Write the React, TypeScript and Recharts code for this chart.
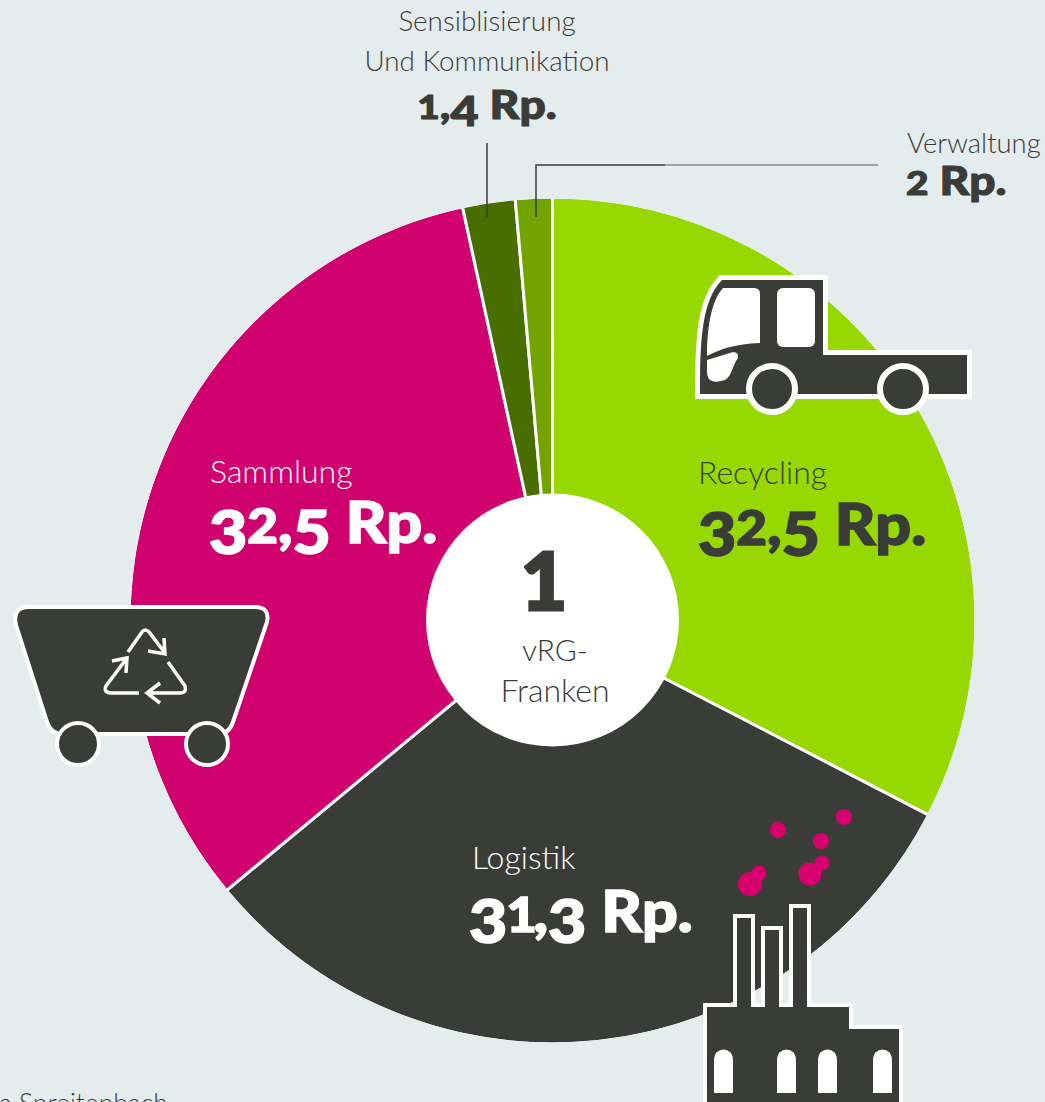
import { Cell, Pie, PieChart } from "recharts";

// slices follow the drawn wedge sizes: the dark green wedge is the wider one,
// even though the picture's leader gives it the 1,4 label
const categories = ["Recycling", "Logistik", "Sammlung", "Sensibilisierung", "Verwaltung"];
const sliceValues = [32.5, 31.3, 32.5, 2, 1.4];
const sliceColors = ["#96D800", "#3A3C38", "#D0006F", "#486E00", "#72A400"];
const amountLabels = ["32,5", "31,3", "32,5", "1,4", "2"];
const smokeDots = [
  [778, 830, 8],
  [844, 817, 8],
  [821, 841, 8],
  [822, 863, 7.5],
  [810, 874, 11.5],
  [759, 873, 7.5],
  [750, 884, 12],
];
const factoryWindows = [714, 777, 818, 873];

const data = categories.map((name, i) => ({ name, value: sliceValues[i] }));

const DARK = "#3A3C38";
const BG = "#E4ECEE";
const LIGHT = "Lato, sans-serif";

function Amount({ x, y, text, size, fill, anchor, sx = 1.1, tight = false }: any) {
  // fakes the old-style figures of the original: 3,4,5 hang below the baseline
  const k = size / 57;
  let shift = 0;
  const chars = (text + " Rp.").split("");
  const parts = chars.map((ch: string, i: number) => {
    const hangs = "3457".includes(ch);
    const small = "120".includes(ch);
    const target = hangs ? 10.5 * k : 0;
    const dy = target - shift;
    shift = target;
    const fontSize = hangs ? 60 * k : small ? 48 * k : ch === "," ? 56 * k : size;
    let dx = 0;
    if (tight && ch === "1") dx = -1;
    if (tight && chars[i - 1] === "1") dx = -3;
    return (
      <tspan key={i} dy={dy} dx={dx} fontSize={fontSize}>
        {ch === " " ? "\u00a0" : ch}
      </tspan>
    );
  });
  return (
    <text
      transform={`translate(${x} ${y}) scale(${sx} 1)`}
      fill={fill}
      stroke={fill}
      strokeWidth={1.6 * k}
      textAnchor={anchor}
      fontFamily="Lato, sans-serif"
      fontWeight={900}
    >
      {parts}
    </text>
  );
}

function Label({ x, y, children, fill = DARK, size = 32, anchor = "start" }: any) {
  return (
    <text x={x} y={y} fill={fill} fontSize={size} fontFamily={LIGHT} fontWeight={300} textAnchor={anchor}>
      {children}
    </text>
  );
}

function Truck() {
  return (
    <g>
      <path
        d="M700 392 C700 340 702 300 722 280 L823 280 L823 355 L967 355 L967 394 L700 394 Z"
        fill={DARK}
        stroke="#fff"
        strokeWidth={10}
        paintOrder="stroke"
      />
      <path
        d="M723 288 L754 288 Q760 288 760 294 L760 343 C735 344 720 349 707 356 C707 325 712 300 723 288 Z"
        fill="#fff"
      />
      <rect x={777} y={288} width={38} height={59} rx={6} fill="#fff" />
      <path d="M707 360 L733 352 Q739 352 738 358 C732 366 732 376 725 380 Q716 383 712 381 Q707 379 707 372 Z" fill="#fff" />
      <circle cx={772} cy={389} r={23} fill={DARK} stroke="#fff" strokeWidth={6} />
      <circle cx={903} cy={389} r={23} fill={DARK} stroke="#fff" strokeWidth={6} />
    </g>
  );
}

function Bin() {
  const arrow = { fill: "none", stroke: "#fff", strokeWidth: 3.5 };
  return (
    <g>
      <path
        d="M29 607 L255 607 Q270 607 267 622 L233 722 Q229 734 218 734 L62 734 Q51 734 47 722 L16 625 Q12 607 29 607 Z"
        fill={DARK}
        stroke="#fff"
        strokeWidth={4}
      />
      <path d="M128 652 L142 632 Q145 628 149 632 L165 653 M148 651 L165 654 L164 638" {...arrow} />
      <path d="M168 662 L185 686 Q187 693 180 693 L147 693 M160 683 L147 693 L160 703" {...arrow} />
      <path d="M139 693 L112 693 Q103 693 106 686 L127 658 M112 661 L127 658 L126 673" {...arrow} />
      <circle cx={78} cy={744} r={21} fill={DARK} stroke="#fff" strokeWidth={4} />
      <circle cx={207} cy={744} r={21} fill={DARK} stroke="#fff" strokeWidth={4} />
    </g>
  );
}

function Factory() {
  return (
    <g>
      {smokeDots.map(([cx, cy, r], i) => (
        <circle key={i} cx={cx} cy={cy} r={r} fill="#D8006F" />
      ))}
      <path
        d="M707 1102 L707 1007 L737 1007 L737 918 L751 918 L751 1007 L765 1007 L765 930 L779 930 L779 1007 L793 1007 L793 908 L807 908 L807 1007 L849 1007 L849 1029 L899 1029 L899 1102 Z"
        fill={DARK}
        stroke="#fff"
        strokeWidth={8}
        paintOrder="stroke"
      />
      {factoryWindows.map((wx, i) => (
        <path key={i} d={`M${wx} 1093 L${wx} 1059 A9.5 9.5 0 0 1 ${wx + 19} 1059 L${wx + 19} 1093 Z`} fill="#fff" />
      ))}
    </g>
  );
}

export default function App() {
  return (
    <div style={{ position: "absolute", left: 0, top: 0, width: 1045, height: 1102, background: BG, overflow: "hidden" }}>
      <PieChart width={1045} height={1102} margin={{ top: 0, right: 0, bottom: 0, left: 0 }}>
        <Pie
          data={data}
          dataKey="value"
          cx={552.5}
          cy={620.5}
          innerRadius={0}
          outerRadius={423.5}
          startAngle={90}
          endAngle={-270}
          stroke="#fff"
          strokeWidth={3}
          isAnimationActive={false}
          legendType="none"
        >
          {data.map((d, i) => (
            <Cell key={d.name} fill={sliceColors[i]} />
          ))}
        </Pie>
      </PieChart>

      {/* everything on top of the pie */}
      <svg width={1045} height={1102} style={{ position: "absolute", left: 0, top: 0 }}>
        <circle cx={552.5} cy={620.5} r={424.5} fill="none" stroke={BG} strokeWidth={5} />
        <circle cx={552.5} cy={620} r={126.5} fill="#fff" />

        <line x1={487} y1={143} x2={487} y2={217} stroke={DARK} strokeWidth={1.5} />
        <path d="M536 217 L536 165 L665 165" fill="none" stroke={DARK} strokeWidth={1.5} />
        <line x1={665} y1={165} x2={878} y2={165} stroke="#8A8D8B" strokeWidth={1.5} />

        <Truck />
        <Bin />
        <Factory />

        <Label x={487} y={31} anchor="middle" size={27.8}>Sensiblisierung</Label>
        <Label x={487} y={71} anchor="middle" size={27.8}>Und Kommunikation</Label>
        <Amount x={487} y={119} text={amountLabels[3]} size={39} fill={DARK} anchor="middle" sx={1.18} />
        <Label x={907} y={153} size={27.4}>Verwaltung</Label>
        <Amount x={906} y={195} text={amountLabels[4]} size={39} fill={DARK} anchor="start" sx={1.18} />

        <Label x={698} y={484}>{categories[0]}</Label>
        <Amount x={698} y={545} text={amountLabels[0]} size={57} fill={DARK} anchor="start" />
        <Label x={472} y={869} fill="#fff">{categories[1]}</Label>
        <Amount x={469} y={932} text={amountLabels[1]} size={57} fill="#fff" anchor="start" tight />
        <Label x={210} y={483} fill="#fff">{categories[2]}</Label>
        <Amount x={209} y={543} text={amountLabels[2]} size={57} fill="#fff" anchor="start" />

        <text
          x={544}
          y={610}
          fill={DARK}
          stroke={DARK}
          strokeWidth={3}
          fontSize={80}
          fontFamily="Lato, sans-serif"
          fontWeight={900}
          textAnchor="middle"
        >
          1
        </text>
        <Label x={555} y={661} anchor="middle" size={30}>vRG-</Label>
        <Label x={555} y={702} anchor="middle">Franken</Label>

        <Label x={-1} y={1113} size={26.5}>a Spreitenbach</Label>
      </svg>
    </div>
  );
}
